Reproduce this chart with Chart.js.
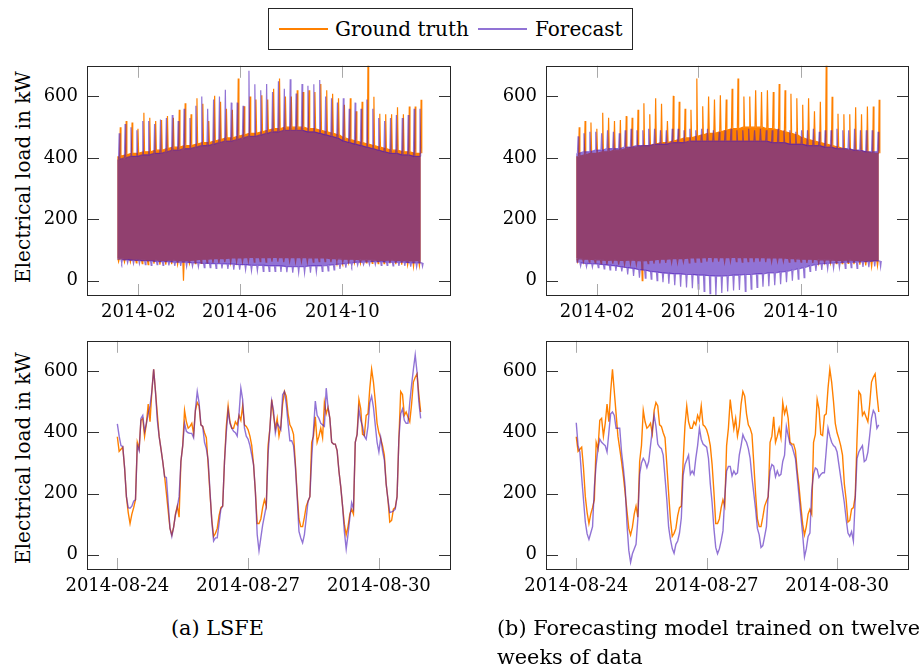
<!DOCTYPE html>
<html>
<head>
<meta charset="utf-8">
<script src="https://cdn.jsdelivr.net/npm/chart.js@4.4.1/dist/chart.umd.min.js"></script>
<style>
html,body{margin:0;padding:0;background:#fff;}
body{width:924px;height:670px;position:relative;overflow:hidden;font-family:"DejaVu Serif",serif;color:#000;}
canvas{position:absolute;}
#legend{position:absolute;left:268px;top:8px;width:365px;height:42px;border:1px solid #262626;box-sizing:border-box;font-size:20px;}
#legend .ln{position:absolute;top:19px;height:2px;width:49px;}
#legend .tx{position:absolute;top:0;line-height:40px;white-space:nowrap;}
.ylab{position:absolute;font-size:20px;line-height:20px;white-space:nowrap;transform:translate(-50%,-50%) rotate(-90deg);}
.cap{position:absolute;font-size:20.8px;line-height:29px;white-space:nowrap;}
</style>
</head>
<body>
<div id="legend">
  <div class="ln" style="left:10px;background:#ff8000"></div><div class="tx" style="left:66px">Ground truth</div>
  <div class="ln" style="left:209px;background:rgba(72,22,185,0.6)"></div><div class="tx" style="left:266px">Forecast</div>
</div>
<div class="ylab" style="left:23px;top:176.5px">Electrical load in kW</div>
<div class="ylab" style="left:23px;top:458px">Electrical load in kW</div>
<canvas id="tl" width="462" height="280" style="left:0;top:46px"></canvas>
<canvas id="tr" width="462" height="280" style="left:459px;top:46px"></canvas>
<canvas id="bl" width="462" height="279" style="left:0;top:321px"></canvas>
<canvas id="br" width="462" height="279" style="left:459px;top:321px"></canvas>
<div class="cap" style="left:171px;top:614px">(a) LSFE</div>
<div class="cap" style="left:497px;top:614px">(b) Forecasting model trained on twelve<br>weeks of data</div>
<script>
// ---------- axis ticks ----------
const yTicks = [0, 200, 400, 600];
const dayTicks = [31, 151, 273];                 // day of 2014 (0 = Jan 1)
const dayTickLabels = ['2014-02', '2014-06', '2014-10'];
const hourTicks = [0, 72, 144];                  // hours from 2014-08-24 00:00
const hourTickLabels = ['2014-08-24', '2014-08-27', '2014-08-30'];

// ---------- one week, hourly (2014-08-24 .. 2014-08-30) ----------
const groundTruthWeek = [
386,338,345,352,284,190,138,102,133,154,
180,368,347,440,446,388,430,493,435,534,
607,534,461,388,347,305,258,201,143,86,
65,90,133,159,123,305,357,472,435,414,
420,430,396,472,498,487,425,420,399,383,
295,201,115,60,70,86,128,154,159,305,
420,487,435,414,414,435,425,456,440,487,
425,420,409,388,357,295,206,102,102,117,
154,180,159,357,414,508,456,412,446,388,
420,493,534,519,461,425,414,394,300,200,
117,92,92,123,159,175,190,368,388,451,
368,388,414,383,498,461,482,446,368,362,
362,341,274,222,159,100,65,92,133,149,
133,368,394,508,477,394,390,456,461,545,
607,565,503,430,399,380,357,326,232,180,
107,112,149,154,190,378,534,524,456,467,
451,435,493,565,581,592,524,467];
const lsfeWeek = [
428,388,357,354,284,190,154,152,159,175,
180,357,340,446,456,404,430,461,487,534,
607,534,440,388,347,305,255,253,170,86,
60,90,130,155,190,305,357,430,404,399,
397,397,383,477,534,498,425,420,368,347,
310,210,110,45,55,55,102,149,159,305,
400,472,430,414,404,399,388,461,545,508,
414,388,378,357,326,295,206,66,13,55,
97,128,159,330,414,503,472,399,430,420,
409,524,534,493,430,373,373,357,290,190,
76,55,39,66,120,175,190,315,409,503,
456,446,430,425,420,545,482,446,368,362,
362,341,274,222,159,75,19,66,120,170,
150,368,394,477,440,420,388,378,420,498,
519,482,425,368,336,383,340,310,232,180,
138,140,143,149,190,378,461,477,440,430,
430,498,555,607,654,597,500,446];
const twelveWeeksWeek = [
432,357,336,253,180,107,68,50,71,92,
222,295,347,378,368,362,357,336,400,461,
467,456,414,414,414,336,284,222,100,15,
-25,3,19,34,117,263,300,315,305,285,
305,357,409,456,420,362,352,347,326,253,
180,90,50,20,5,34,45,71,120,260,
295,310,326,263,274,263,315,357,414,378,
362,357,352,315,232,170,86,24,3,19,
45,78,190,274,289,289,258,274,263,268,
326,357,393,378,368,347,315,253,201,149,
86,65,24,30,60,92,201,274,295,290,
255,274,258,263,305,326,420,390,362,357,
336,315,253,190,128,66,-7,19,60,71,
211,263,284,279,253,263,268,268,340,414,
388,368,357,352,336,295,253,211,170,117,
71,60,76,45,180,315,336,347,357,305,
310,336,390,446,472,461,414,425];

// ---------- full year, weekly envelope (52 weeks from 2014-01-07) ----------
const yearStartDay = 6, yearEndDay = 366;
const gtYearMax = [500,520,515,495,547,531,520,523,536,531,557,578,542,594,576,520,602,583,560,557,659,568,600,590,604,590,625,659,600,600,620,615,620,615,641,620,609,594,573,594,552,583,720,599,544,542,542,565,542,567,567,589];
const gtYearTop = [405,410,415,415,420,420,425,425,430,435,435,440,440,445,450,450,455,460,465,465,470,475,480,480,485,490,495,495,500,500,500,500,495,495,490,485,480,475,465,460,455,450,445,440,435,430,425,425,420,420,415,415];
const gtYearBottom = [72,70,70,68,68,66,68,66,66,68,66,64,66,68,70,70,72,72,72,74,74,74,76,76,75,75,76,76,75,75,75,76,75,74,74,74,72,72,70,70,70,68,68,68,66,66,68,66,66,64,64,66];
const gtYearMin = [62,60,60,58,55,52,55,52,52,54,52,0,55,55,56,58,58,58,60,58,60,60,62,60,62,60,62,62,60,62,60,62,60,60,62,62,60,62,60,58,58,56,58,56,55,55,56,54,52,50,45,48];
const lsfeYearMax = [480,510,500,490,520,520,510,525,530,540,520,560,530,570,600,560,590,600,622,580,580,570,684,640,620,641,615,650,625,656,610,641,635,640,654,600,594,580,594,560,580,560,590,560,530,520,530,540,530,540,560,560];
const lsfeYearTop = [395,400,405,405,410,410,415,415,420,425,425,430,430,435,440,440,445,450,455,455,460,465,470,470,475,480,485,485,490,490,490,490,485,485,480,475,470,465,455,450,445,440,435,430,425,420,415,415,410,410,405,405];
const lsfeYearBottom = [68,68,66,66,64,64,62,62,62,60,60,60,58,58,56,56,55,55,54,54,52,52,50,50,50,48,48,48,46,46,46,46,48,48,48,50,52,54,56,58,60,60,62,62,62,60,60,60,60,58,58,58];
const lsfeYearMin = [58,58,55,55,52,50,52,50,50,48,48,46,46,45,42,42,40,40,38,36,36,35,32,32,30,30,30,28,28,26,26,25,26,28,30,32,35,38,42,48,50,52,52,52,50,50,48,48,48,46,44,46];
const twelveYearMax = [470,480,485,485,480,490,485,480,490,495,490,490,495,495,490,490,495,495,490,495,490,495,495,490,485,490,495,490,490,495,490,495,490,490,495,490,490,485,490,490,495,485,490,490,495,490,490,495,490,490,490,485];
const twelveYearTop = [415,420,420,425,425,430,430,430,435,435,440,440,440,445,445,445,450,450,450,455,455,455,455,455,455,455,455,455,455,455,455,455,455,450,450,450,445,445,445,440,440,440,435,435,430,430,430,425,425,420,420,420];
const twelveYearBottom = [58,56,55,54,52,50,48,45,42,40,36,34,30,28,25,24,22,22,20,20,18,18,16,15,15,16,18,18,20,20,22,22,25,25,28,30,34,38,42,48,52,55,56,58,58,60,60,60,62,62,64,64];
const twelveYearMin = [47,45,44,42,38,35,32,30,20,15,10,8,5,0,-5,-10,-15,-20,-22,-25,-28,-35,-42,-47,-40,-35,-32,-30,-35,-28,-22,-20,-18,-15,-12,-5,0,5,10,30,32,35,38,40,42,40,42,40,45,44,46,45];

// ---------- styling ----------
const ORANGE = '#ff8000';
const PURPLE = 'rgba(72,22,185,0.6)';
const FONT = {family: 'DejaVu Serif', size: 18};
Chart.defaults.font.family = FONT.family;
Chart.defaults.font.size = FONT.size;
Chart.defaults.color = '#000';

const weekDay = i => yearStartDay + 7 * i;
// closed outline: upper edge left->right, lower edge right->left
function bandShape(top, bottom) {
  const pts = [{x: yearStartDay, y: top[0]}];
  top.forEach((v, i) => pts.push({x: weekDay(i) + 3.5, y: v}));
  pts.push({x: yearEndDay, y: top[top.length - 1]});
  pts.push({x: yearEndDay, y: bottom[bottom.length - 1]});
  for (let i = bottom.length - 1; i >= 0; i--) pts.push({x: weekDay(i) + 3.5, y: bottom[i]});
  pts.push({x: yearStartDay, y: bottom[0]});
  return pts;
}
function spikes(edge, peak, shift) {
  const pts = [];
  peak.forEach((p, i) => {
    const c = weekDay(i) + shift;
    pts.push({x: c - 0.8, y: edge[i]}, {x: c, y: p}, {x: c + 0.8, y: edge[i]});
  });
  return pts;
}
function yearSets(top, bottom, max, min, color, upShift, downShift) {
  return [
    {data: bandShape(top, bottom), borderColor: 'transparent', borderWidth: 0, backgroundColor: color, fill: 'shape'},
    {data: spikes(top, max, upShift), borderColor: color, borderWidth: 1.2, fill: false},
    {data: spikes(bottom, min, downShift), borderColor: color, borderWidth: 1.2, fill: false}
  ];
}
const series = vals => vals.map((v, h) => ({x: h, y: v}));

const framePlugin = {
  id: 'frame',
  afterDraw(chart) {
    const {ctx, chartArea: a, scales: {x, y}} = chart;
    ctx.save();
    ctx.lineWidth = 1;
    ctx.strokeStyle = '#a9a9a9';
    x.ticks.forEach(t => {
      const px = Math.round(x.getPixelForValue(t.value)) + 0.5;
      ctx.beginPath();
      ctx.moveTo(px, a.top); ctx.lineTo(px, a.top + 12);
      ctx.moveTo(px, a.bottom); ctx.lineTo(px, a.bottom - 12);
      ctx.stroke();
    });
    ctx.strokeStyle = '#333';
    y.ticks.forEach(t => {
      const py = Math.round(y.getPixelForValue(t.value)) + 0.5;
      ctx.beginPath();
      ctx.moveTo(a.left, py); ctx.lineTo(a.left + 12, py);
      ctx.moveTo(a.right, py); ctx.lineTo(a.right - 12, py);
      ctx.stroke();
    });
    ctx.strokeStyle = '#262626';
    ctx.strokeRect(Math.round(a.left) + 0.5, Math.round(a.top) + 0.5,
                   Math.round(a.right - a.left) - 1, Math.round(a.bottom - a.top) - 1);
    ctx.restore();
  }
};

function makeChart(id, datasets, xmin, xmax, xTicks, xLabels, padRight) {
  return new Chart(document.getElementById(id), {
    type: 'line',
    data: {datasets},
    options: {
      responsive: false, animation: false, devicePixelRatio: 1,
      layout: {padding: {left: 0, top: 10, right: padRight, bottom: 0}},
      plugins: {legend: {display: false}, tooltip: {enabled: false}},
      elements: {point: {radius: 0}, line: {tension: 0}},
      scales: {
        x: {
          type: 'linear', min: xmin, max: xmax,
          grid: {display: false, drawTicks: false}, border: {display: false},
          afterBuildTicks: s => { s.ticks = xTicks.map(v => ({value: v})); },
          ticks: {autoSkip: false, maxRotation: 0, minRotation: 0, padding: 6, font: FONT, color: '#000',
                  callback: v => xLabels[xTicks.indexOf(v)]},
          afterFit: s => { s.height = 30; }
        },
        y: {
          type: 'linear', min: -50, max: 700,
          grid: {display: false, drawTicks: false}, border: {display: false},
          afterBuildTicks: s => { s.ticks = yTicks.map(v => ({value: v})); },
          ticks: {padding: 9, font: FONT, color: '#000'},
          afterFit: s => { s.width = 87; }
        }
      }
    },
    plugins: [framePlugin]
  });
}

function build() {
  makeChart('tl', [
    ...yearSets(lsfeYearTop, lsfeYearBottom, lsfeYearMax, lsfeYearMin, PURPLE, 2.2, 5.2),
    ...yearSets(gtYearTop, gtYearBottom, gtYearMax, gtYearMin, ORANGE, 3.5, 1.5)
  ], -30, 402, dayTicks, dayTickLabels, 11);

  makeChart('tr', [
    ...yearSets(twelveYearTop, twelveYearBottom, twelveYearMax, twelveYearMin, PURPLE, 2.2, 5.2),
    ...yearSets(gtYearTop, gtYearBottom, gtYearMax, gtYearMin, ORANGE, 3.5, 1.5)
  ], -30, 402, dayTicks, dayTickLabels, 12);

  makeChart('bl', [
    {data: series(lsfeWeek), borderColor: PURPLE, borderWidth: 1.4, fill: false},
    {data: series(groundTruthWeek), borderColor: ORANGE, borderWidth: 1.4, fill: false}
  ], -16.7, 183.7, hourTicks, hourTickLabels, 11);

  makeChart('br', [
    {data: series(twelveWeeksWeek), borderColor: PURPLE, borderWidth: 1.4, fill: false},
    {data: series(groundTruthWeek), borderColor: ORANGE, borderWidth: 1.4, fill: false}
  ], -16.7, 183.7, hourTicks, hourTickLabels, 12);
}

if (document.fonts && document.fonts.load) {
  document.fonts.load('18px "DejaVu Serif"').then(build, build);
} else {
  build();
}
</script>
</body>
</html>
